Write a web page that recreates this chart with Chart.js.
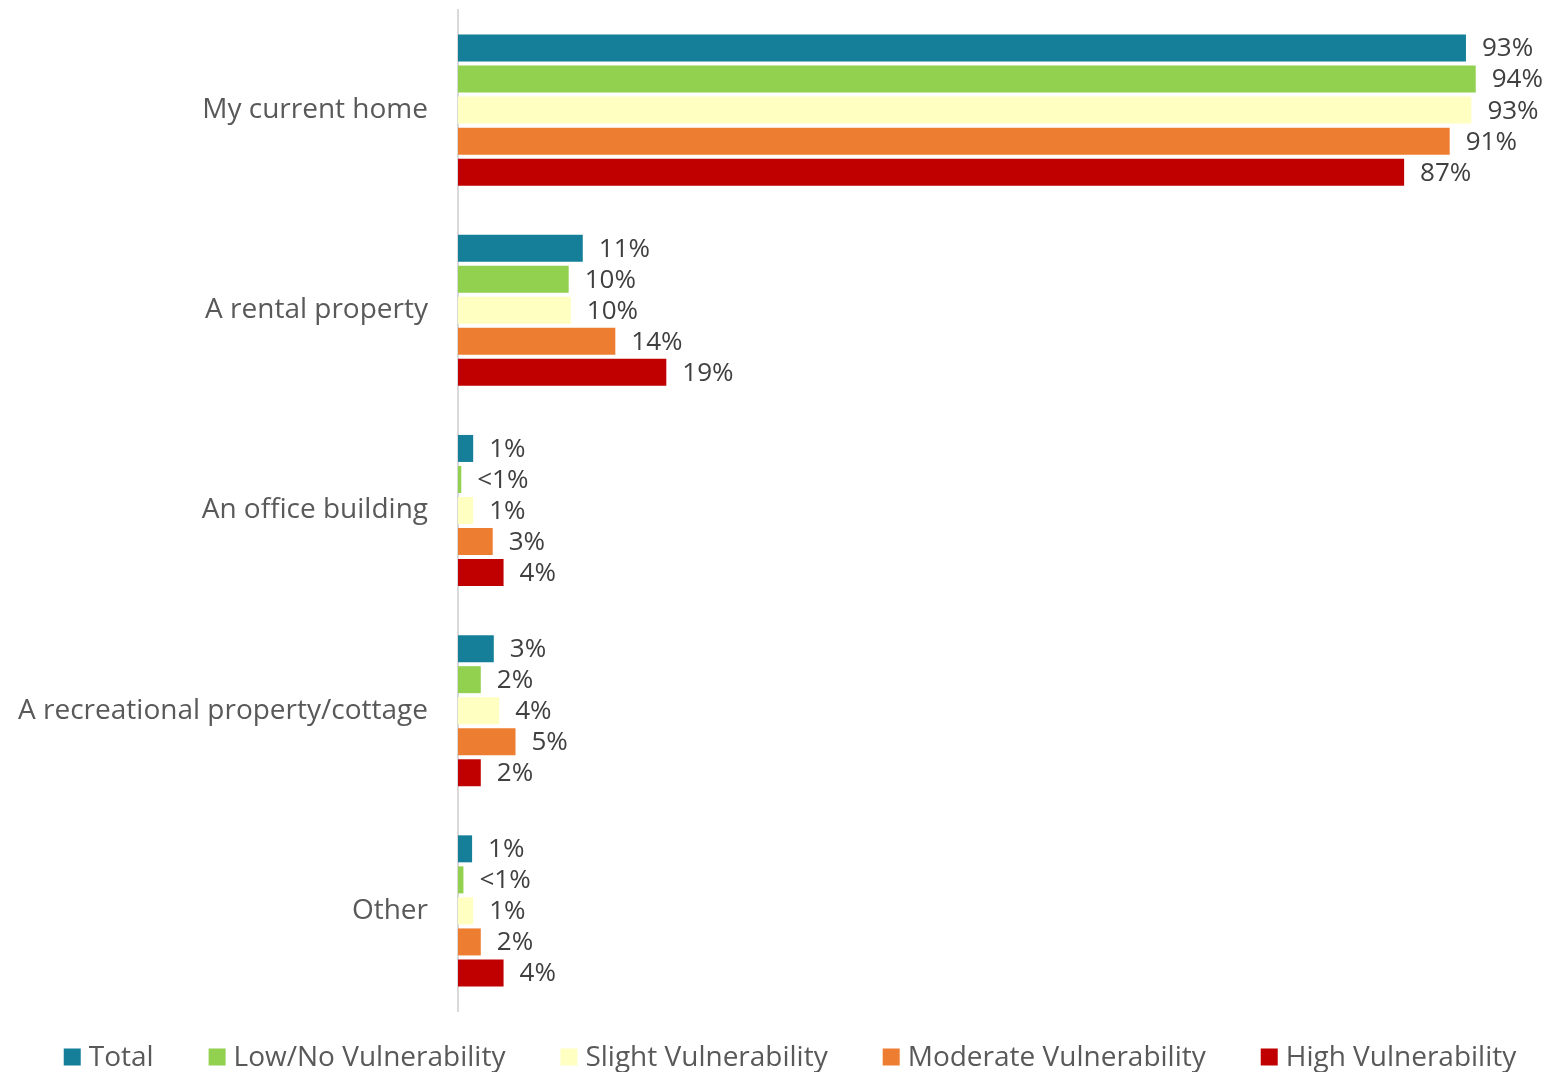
<!DOCTYPE html>
<html>
<head>
<meta charset="utf-8">
<script src="https://cdn.jsdelivr.net/npm/chart.js@4"></script>
<style>
	html, body { margin: 0; padding: 0; background: #fff; }
	#wrap { width: 1544px; height: 1072px; }
</style>
</head>
<body>
<div id="wrap"><canvas id="placesChart"></canvas></div>
<script>
const categories = ['My current home', 'A rental property', 'An office building', 'A recreational property/cottage', 'Other'];

// bar lengths (%) and the printed labels
const total = [92.9, 11.5, 1.4, 3.3, 1.3];
const lowNo = [93.8, 10.2, 0.3, 2.1, 0.5];
const slight = [93.4, 10.4, 1.4, 3.8, 1.4];
const moderate = [91.4, 14.5, 3.2, 5.3, 2.1];
const high = [87.2, 19.2, 4.2, 2.1, 4.2];

const totalLabels = ['93%', '11%', '1%', '3%', '1%'];
const lowNoLabels = ['94%', '10%', '<1%', '2%', '<1%'];
const slightLabels = ['93%', '10%', '1%', '4%', '1%'];
const moderateLabels = ['91%', '14%', '3%', '5%', '2%'];
const highLabels = ['87%', '19%', '4%', '2%', '4%'];

const FONT = '"Open Sans", "DejaVu Sans", sans-serif';

// draws the value text at the end of every bar
const barLabels = {
	id: 'barLabels',
	afterDatasetsDraw(chart) {
		const ctx = chart.ctx;
		ctx.save();
		ctx.font = '26px ' + FONT;
		ctx.fillStyle = '#404040';
		ctx.textAlign = 'left';
		ctx.textBaseline = 'middle';
		chart.data.datasets.forEach((ds, i) => {
			chart.getDatasetMeta(i).data.forEach((bar, j) => {
				ctx.fillText(ds.valueLabels[j], bar.x + 16, bar.y + 1);
			});
		});
		ctx.restore();
	}
};

// legend row under the plot, laid out like the Excel one
const bottomLegend = {
	id: 'bottomLegend',
	afterDraw(chart) {
		const ctx = chart.ctx;
		const box = 17, gapText = 8, gapItem = 55;
		const y = chart.chartArea.bottom + 46;
		ctx.save();
		ctx.font = '28px ' + FONT;
		ctx.textBaseline = 'middle';
		ctx.textAlign = 'left';
		const items = chart.data.datasets.map(ds => ({
			text: ds.label,
			color: ds.backgroundColor,
			w: box + gapText + ctx.measureText(ds.label).width
		}));
		const fullW = items.reduce((s, it) => s + it.w, 0) + gapItem * (items.length - 1);
		let x = 790 - fullW / 2;
		items.forEach(it => {
			ctx.fillStyle = it.color;
			ctx.fillRect(x, y - box / 2, box, box);
			ctx.fillStyle = '#595959';
			ctx.fillText(it.text, x + box + gapText, y + 1);
			x += it.w + gapItem;
		});
		ctx.restore();
	}
};

const ctx = document.getElementById('placesChart').getContext('2d');
const placesChart = new Chart(ctx, {
	type: 'bar',
	data: {
		labels: categories,
		datasets: [
			{ label: 'Total', data: total, valueLabels: totalLabels, backgroundColor: '#157F9A' },
			{ label: 'Low/No Vulnerability', data: lowNo, valueLabels: lowNoLabels, backgroundColor: '#92D050' },
			{ label: 'Slight Vulnerability', data: slight, valueLabels: slightLabels, backgroundColor: '#FFFFC1' },
			{ label: 'Moderate Vulnerability', data: moderate, valueLabels: moderateLabels, backgroundColor: '#ED7D31' },
			{ label: 'High Vulnerability', data: high, valueLabels: highLabels, backgroundColor: '#C00000' }
		]
	},
	options: {
		indexAxis: 'y',
		responsive: true,
		maintainAspectRatio: false,
		animation: false,
		categoryPercentage: 0.775,
		barPercentage: 0.87,
		layout: { padding: { top: 10, right: 1, left: 0, bottom: 61 } },
		scales: {
			x: {
				min: 0,
				max: 100,
				display: false
			},
			y: {
				afterFit(scale) {
					scale.width = 458;
					scale.paddingTop = 0;
					scale.paddingBottom = 0;
				},
				grid: { display: false, drawTicks: false },
				border: { display: true, color: '#D9D9D9', width: 2 },
				ticks: {
					padding: 30,
					color: '#595959',
					font: { family: FONT, size: 28 }
				}
			}
		},
		plugins: {
			legend: { display: false },
			tooltip: { enabled: false }
		}
	},
	plugins: [barLabels, bottomLegend]
});
</script>
</body>
</html>
